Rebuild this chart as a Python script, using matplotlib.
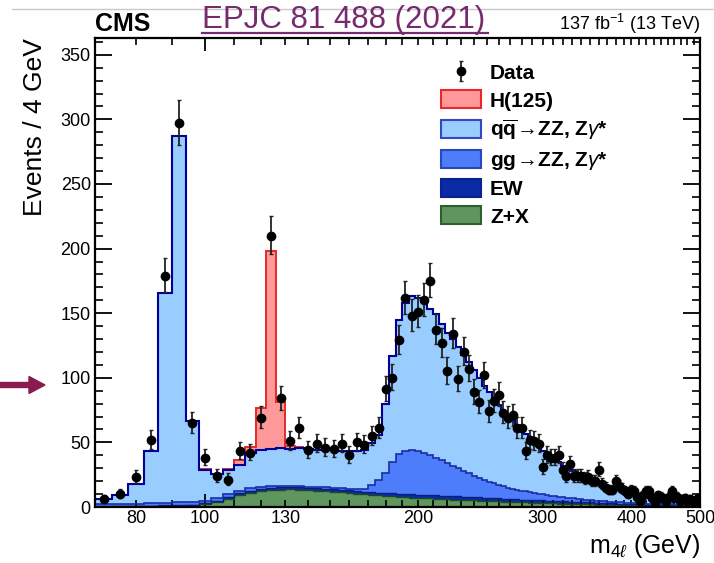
import numpy as np
import matplotlib
matplotlib.use('Agg')
import matplotlib.pyplot as plt
from matplotlib.ticker import FixedLocator, MultipleLocator, FuncFormatter
from matplotlib.patches import Patch, FancyArrow
from matplotlib.lines import Line2D
from matplotlib.transforms import IdentityTransform

plt.rcParams['font.family'] = ['Liberation Sans', 'DejaVu Sans']
plt.rcParams['mathtext.fontset'] = 'custom'
plt.rcParams['mathtext.rm'] = 'Liberation Sans'
plt.rcParams['mathtext.it'] = 'Liberation Sans:italic'
plt.rcParams['mathtext.bf'] = 'Liberation Sans:bold'

# ---------------- data (4 GeV bins starting at 70 GeV) ----------------
bin_low = 70
bin_width = 4
n_bins = 108

data = [6, 10, 23, 52, 179, 297, 65, 38, 24, 21,
        43, 42, 69, 210, 84, 51, 61, 44, 49, 46,
        45, 49, 40, 50, 48, 55, 61, 91, 100, 129,
        162, 148, 151, 160, 175, 137, 127, 105, 134, 99,
        120, 107, 89, 81, 102, 74, 82, 87, 73, 69,
        71, 61, 61, 43, 52, 51, 49, 31, 40, 38,
        38, 40, 29, 24, 33, 24, 24, 24, 22, 23,
        20, 20, 29, 18, 15, 13, 13, 20, 16, 14,
        12, 10, 13, 12, 8, 5, 9, 12, 12, 7,
        4, 9, 8, 7, 5, 8, 12, 7, 8, 5,
        6, 7, 5, 6, 5, 4, 7, 5]

zx = [0.3, 0.4, 0.5, 0.6, 0.8, 1.0, 1.2, 2.0, 4.0, 6.5,
      9.0, 11.0, 12.0, 13.0, 13.5, 13.7, 13.5, 13.0, 12.6, 12.2,
      11.8, 11.4, 10.8, 10.2, 9.8, 9.4, 9.0, 8.6, 8.2, 7.8,
      7.5, 7.2, 7.0, 6.8, 6.6, 6.4, 6.2, 6.0, 5.8, 5.6,
      5.4, 5.2, 5.1, 4.9, 4.7, 4.6, 4.4, 4.3, 4.1, 4.0,
      3.9, 3.7, 3.6, 3.5, 3.4, 3.3, 3.2, 3.1, 3.0, 2.9,
      2.8, 2.7, 2.6, 2.5, 2.4, 2.4, 2.3, 2.2, 2.1, 2.0,
      2.0, 1.9, 1.8, 1.7, 1.7, 1.6, 1.6, 1.5, 1.4, 1.4,
      1.3, 1.3, 1.2, 1.2, 1.1, 1.1, 1.0, 1.0, 0.9, 0.9,
      0.9, 0.8, 0.8, 0.8, 0.7, 0.7, 0.7, 0.6, 0.6, 0.6,
      0.5, 0.5, 0.5, 0.5, 0.4, 0.4, 0.4, 0.4]

ew = [0.4, 0.4, 0.5, 0.5, 0.6, 0.6, 0.6, 0.8, 1.0, 1.2,
      1.5, 1.6, 1.7, 1.8, 1.8, 1.8, 1.8, 1.8, 1.8, 1.8,
      1.9, 1.9, 2.0, 2.0, 2.0, 2.1, 2.2, 2.3, 2.4, 2.5,
      2.5, 2.6, 2.6, 2.6, 2.6, 2.6, 2.6, 2.6, 2.6, 2.6,
      2.6, 2.6, 2.6, 2.5, 2.5, 2.5, 2.4, 2.4, 2.4, 2.3,
      2.3, 2.2, 2.2, 2.2, 2.1, 2.1, 2.1, 2.0, 2.0, 1.9,
      1.9, 1.9, 1.8, 1.8, 1.8, 1.7, 1.7, 1.7, 1.6, 1.6,
      1.5, 1.5, 1.5, 1.4, 1.4, 1.4, 1.3, 1.3, 1.3, 1.2,
      1.2, 1.2, 1.1, 1.1, 1.1, 1.0, 1.0, 1.0, 1.0, 0.9,
      0.9, 0.9, 0.9, 0.8, 0.8, 0.8, 0.8, 0.7, 0.7, 0.7,
      0.7, 0.7, 0.6, 0.6, 0.6, 0.6, 0.6, 0.6]

gg = [1.5, 1.5, 1.6, 1.7, 1.8, 2.0, 2.0, 2.2, 2.0, 2.0,
      2.0, 1.8, 1.8, 1.5, 1.2, 1.0, 1.0, 1.0, 1.0, 1.1,
      1.2, 1.3, 1.5, 1.8, 2.5, 5.5, 9.8, 15.7, 24.4, 30.7,
      33.4, 34.2, 33.4, 32.1, 30.8, 29.0, 27.2, 25.4, 23.6, 21.8,
      20.0, 18.2, 16.3, 15.1, 13.8, 12.4, 11.5, 10.3, 9.5, 8.7,
      7.8, 7.3, 6.7, 6.3, 5.8, 5.3, 4.9, 4.6, 4.2, 4.0,
      3.7, 3.4, 3.2, 2.9, 2.7, 2.5, 2.3, 2.1, 2.0, 1.8,
      1.7, 1.6, 1.5, 1.5, 1.3, 1.2, 1.1, 1.0, 1.0, 0.9,
      0.9, 0.8, 0.9, 0.8, 0.8, 0.8, 0.8, 0.7, 0.7, 0.7,
      0.7, 0.7, 0.6, 0.6, 0.6, 0.6, 0.5, 0.6, 0.6, 0.5,
      0.5, 0.5, 0.5, 0.5, 0.5, 0.5, 0.5, 0.5]

qq = [3.8, 7.2, 15.4, 40.8, 162.8, 283.4, 62.7, 24.0, 18.6, 19.0,
      20.0, 27.6, 28.5, 28.4, 29.5, 28.5, 29.7, 29.2, 29.1, 28.9,
      29.1, 28.9, 28.7, 29.0, 29.7, 32.5, 34.8, 53.4, 82.0, 104.0,
      114.6, 119.0, 118.6, 118.5, 113.0, 111.0, 106.0, 100.5, 98.0, 94.0,
      90.0, 86.0, 82.0, 77.5, 73.0, 69.5, 65.7, 62.0, 58.0, 55.5,
      53.0, 49.8, 47.5, 44.5, 41.7, 39.3, 36.8, 33.3, 31.3, 29.7,
      28.1, 26.5, 24.4, 23.3, 22.1, 20.9, 19.7, 19.0, 17.8, 17.1,
      16.3, 15.5, 14.7, 13.7, 12.8, 12.0, 11.2, 10.4, 9.6, 8.9,
      8.1, 7.2, 6.5, 6.2, 5.9, 5.6, 5.3, 5.0, 4.7, 4.4,
      4.0, 3.7, 3.5, 3.4, 3.3, 3.1, 3.0, 2.9, 2.7, 2.6,
      2.5, 2.4, 2.4, 2.2, 2.2, 2.0, 1.9, 1.8]

higgs = [0, 0, 0, 0, 0, 0, 0, 0.3, 0.3, 0.4,
         3.5, 4.7, 32.4, 153.3, 35.0, 2.2, 0.5, 0, 0, 0,
         0, 0, 0, 0, 0, 0, 0, 0, 0, 0,
         0, 0, 0, 0, 0, 0, 0, 0, 0, 0,
         0, 0, 0, 0, 0, 0, 0, 0, 0, 0,
         0, 0, 0, 0, 0, 0, 0, 0, 0, 0,
         0, 0, 0, 0, 0, 0, 0, 0, 0, 0,
         0, 0, 0, 0, 0, 0, 0, 0, 0, 0,
         0, 0, 0, 0, 0, 0, 0, 0, 0, 0,
         0, 0, 0, 0, 0, 0, 0, 0, 0, 0,
         0, 0, 0, 0, 0, 0, 0, 0]

x_labels = [80, 100, 130, 200, 300, 400, 500]
x_minor = [70, 80, 90, 110, 120, 130, 140, 150, 160, 170, 180, 190, 200,
           210, 220, 230, 240, 250, 260, 270, 280, 290, 300, 310, 320, 330,
           340, 350, 360, 370, 380, 390, 400, 410, 420, 430, 440, 450, 460,
           470, 480, 490, 500]

legend_labels = ['Data', 'H(125)',
                 r'$\mathbf{q\overline{q}}\!{\rightarrow}\!$ZZ, Z$\gamma$*',
                 r'gg$\!{\rightarrow}\!$ZZ, Z$\gamma$*', 'EW', 'Z+X']

# ---------------- colours ----------------
c_h, e_h = '#ff9999', '#e8282a'
c_qq, e_qq = '#99ccff', '#000099'
c_gg, e_gg = '#4d7dfa', '#1a2ea5'
c_ew, e_ew = '#0a2ba5', '#071e80'
c_zx, e_zx = '#5f955f', '#1f4a1f'

# ---------------- figure ----------------
W, H = 714, 563
fig = plt.figure(figsize=(W / 100, H / 100), dpi=100)
ax = fig.add_axes([95 / W, 56 / H, 605 / W, 469 / H])

edges = bin_low + bin_width * np.arange(n_bins + 1)
centers = edges[:-1] + bin_width / 2.0
zx_a, ew_a, gg_a, qq_a, h_a = map(np.asarray, (zx, ew, gg, qq, higgs))
c1 = zx_a
c2 = c1 + ew_a
c3 = c2 + gg_a
c4 = c3 + qq_a
c5 = c4 + h_a

sel = np.nonzero(h_a)[0]
lo, hi = sel[0], sel[-1] + 1

# fills (each from zero, drawn top layer first)
ax.stairs(c5[lo:hi], edges[lo:hi + 1], baseline=0, fill=True, color=c_h, lw=0, zorder=1)
ax.stairs(c4, edges, baseline=0, fill=True, color=c_qq, lw=0, zorder=1.1)
ax.stairs(c3, edges, baseline=0, fill=True, color=c_gg, lw=0, zorder=1.2)
ax.stairs(c2, edges, baseline=0, fill=True, color=c_ew, lw=0, zorder=1.3)
ax.stairs(c1, edges, baseline=0, fill=True, color=c_zx, lw=0, zorder=1.4)
# outlines
ax.stairs(c1, edges, baseline=None, color=e_zx, lw=1.0, zorder=2)
ax.stairs(c2, edges, baseline=None, color=e_ew, lw=1.0, zorder=2)
ax.stairs(c3, edges, baseline=None, color=e_gg, lw=1.2, zorder=2)
ax.stairs(c5[lo:hi], edges[lo:hi + 1], baseline=None, color=e_h, lw=1.4, zorder=2.1)
ax.stairs(c4, edges, baseline=None, color=e_qq, lw=1.5, zorder=2.2)

d = np.asarray(data, dtype=float)
err_dn = np.sqrt(d + 0.25) - 0.5
err_up = np.sqrt(d + 0.25) + 0.5
eb = ax.errorbar(centers, d, yerr=[err_dn, err_up], fmt='o', color='black',
                 ms=6, ecolor='#222222', elinewidth=1.3, capsize=1.5,
                 capthick=1.0, zorder=5, label='Data')

ax.set_xscale('log')
ax.set_xlim(70, 500)
ax.set_ylim(0, 363)

lab_set = set(x_labels)
ax.xaxis.set_major_locator(FixedLocator([100]))
ax.xaxis.set_major_formatter(FuncFormatter(lambda v, p: '%d' % round(v)))
ax.xaxis.set_minor_locator(FixedLocator(x_minor))
ax.xaxis.set_minor_formatter(FuncFormatter(
    lambda v, p: ('%d' % round(v)) if int(round(v)) in lab_set else ''))
ax.yaxis.set_major_locator(MultipleLocator(50))
ax.yaxis.set_minor_locator(MultipleLocator(10))

ax.tick_params(axis='x', which='major', direction='in', length=9.4, width=1.3,
               top=True, labelsize=13, pad=2)
ax.tick_params(axis='x', which='minor', direction='in', length=5, width=1.2,
               top=True, labelsize=13, pad=2)
ax.tick_params(axis='y', which='major', direction='in', length=12, width=1.3,
               right=True, labelsize=13, pad=3)
ax.tick_params(axis='y', which='minor', direction='in', length=5.8, width=1.2,
               right=True)
for s in ax.spines.values():
    s.set_linewidth(1.6)

# axis titles
fig.text(35 / W, 1 - 38 / H, 'Events / 4 GeV', rotation=90, ha='center',
         va='top', fontsize=19)
fig.text(700 / W, 10 / H, r'm$_{4\ell}$ (GeV)', ha='right', va='baseline',
         fontsize=18)

# header texts
fig.text(95 / W, 1 - 31 / H, 'CMS', fontsize=18, fontweight='bold',
         ha='left', va='baseline')
fig.text(700 / W, 1 - 30 / H, r'137 fb$^{-1}$ (13 TeV)', fontsize=13,
         ha='right', va='baseline')
fig.text(202 / W, 1 - 28 / H, 'EPJC 81 488 (2021)', fontsize=22.5,
         color='#772a6e', ha='left', va='baseline')
fig.add_artist(Line2D([202 / W, 488 / W], [1 - 33 / H, 1 - 33 / H],
                      transform=fig.transFigure, color='#772a6e', lw=1.6))
fig.add_artist(Line2D([12 / W, 1.0], [1 - 9 / H, 1 - 9 / H],
                      transform=fig.transFigure, color='#c8c8c8', lw=1.0))
fig.add_artist(FancyArrow(0, H - 385, 45, 0, width=5, head_width=17,
                          head_length=16, length_includes_head=True,
                          color='#8b1a4e', transform=IdentityTransform()))

# legend
handles = [eb,
           Patch(facecolor=c_h, edgecolor=e_h, lw=1.5),
           Patch(facecolor=c_qq, edgecolor='#3347c0', lw=1.5),
           Patch(facecolor=c_gg, edgecolor='#2a46c0', lw=1.5),
           Patch(facecolor=c_ew, edgecolor='#0a2290', lw=1.5),
           Patch(facecolor=c_zx, edgecolor='#2f5f2f', lw=1.5)]
ax.legend(handles, legend_labels, loc='upper left',
          bbox_to_anchor=((441 - 95) / 605, (507 - 63) / 469),
          frameon=False, prop={'weight': 'bold', 'size': 15},
          handlelength=1.9, handleheight=0.95, handletextpad=0.45,
          labelspacing=0.35, borderpad=0, borderaxespad=0)

fig.savefig('out.png', dpi=100)
